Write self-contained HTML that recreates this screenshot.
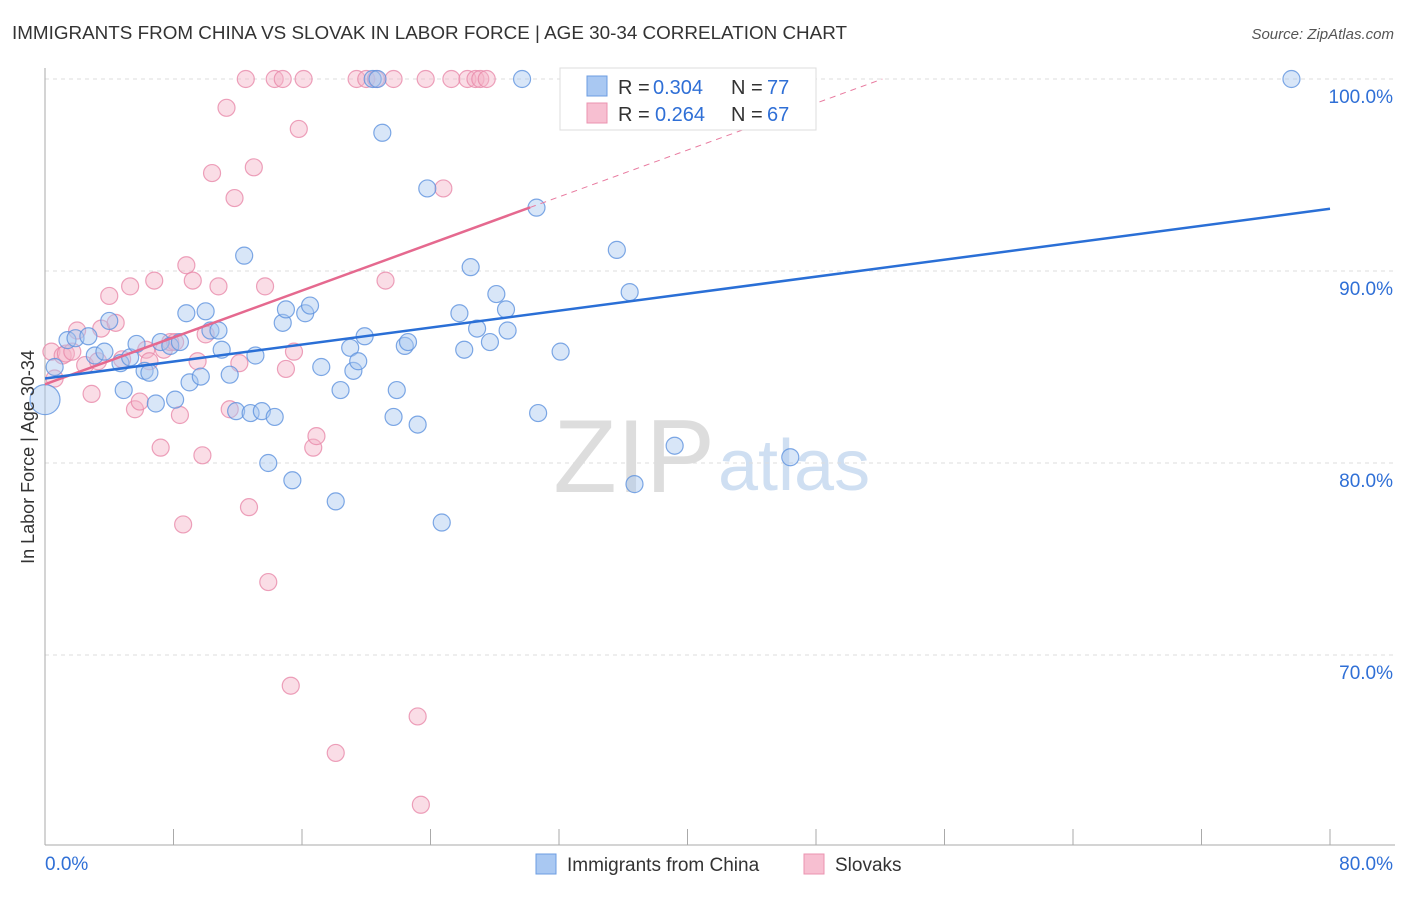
<!DOCTYPE html>
<html><head><meta charset="utf-8"><style>
body{margin:0;background:#fff;font-family:"Liberation Sans",sans-serif;}
svg text{font-family:"Liberation Sans",sans-serif;}
</style></head><body>
<svg id="chart" width="1406" height="892">
<text x="12" y="39" font-size="18" fill="#333" textLength="835" lengthAdjust="spacingAndGlyphs">IMMIGRANTS FROM CHINA VS SLOVAK IN LABOR FORCE | AGE 30-34 CORRELATION CHART</text>
<text x="1394" y="39" font-size="15" fill="#555" font-style="italic" text-anchor="end">Source: ZipAtlas.com</text>
<text x="715" y="492" font-size="104" fill="#ddd" text-anchor="end" font-family="Liberation Serif">ZIP</text>
<text x="718" y="490" font-size="72" fill="#cfdff2">atlas</text>
<g id="grid"></g>
<g id="axes"></g>
<g id="marks"></g>
<text transform="translate(34,457) rotate(-90)" font-size="18" fill="#333" text-anchor="middle">In Labor Force | Age 30-34</text>
<g>
<rect x="560" y="68" width="256" height="62" fill="#fff" stroke="#ddd"/>
<rect x="587" y="76" width="20" height="20" fill="#a9c8f2" stroke="#6c9de2"/>
<rect x="587" y="103" width="20" height="20" fill="#f7bfd1" stroke="#eb93b0"/>
<g font-size="20">
<text x="618" y="94" fill="#333">R =</text><text x="653" y="94" fill="#2f6fd6">0.304</text>
<text x="731" y="94" fill="#333">N =</text><text x="767" y="94" fill="#2f6fd6">77</text></g>
<g font-size="20">
<text x="618" y="121" fill="#333">R =</text><text x="655" y="121" fill="#2f6fd6">0.264</text>
<text x="731" y="121" fill="#333">N =</text><text x="767" y="121" fill="#2f6fd6">67</text></g>
</g>
<g>
<rect x="536" y="854" width="20" height="20" fill="#a9c8f2" stroke="#6c9de2"/>
<text x="567" y="871" font-size="19" fill="#333">Immigrants from China</text>
<rect x="804" y="854" width="20" height="20" fill="#f7bfd1" stroke="#eb93b0"/>
<text x="835" y="871" font-size="19" fill="#333">Slovaks</text>
</g>
</svg>
<script>
const chinaX=[0.0,0.6,1.4,1.9,2.7,3.1,3.7,4.0,4.7,4.9,5.3,5.7,6.2,6.5,6.9,7.2,7.8,8.1,8.4,8.8,9.0,9.7,10.0,10.3,10.8,11.0,11.5,11.9,12.4,12.8,13.1,13.5,13.9,14.3,14.8,15.0,15.4,16.2,16.5,17.2,18.1,18.4,19.0,19.2,19.5,19.9,20.4,20.7,21.0,21.7,21.9,22.4,22.6,23.2,23.8,24.7,25.8,26.1,26.5,26.9,27.7,28.1,28.7,28.8,29.7,30.6,30.7,32.1,32.9,35.6,36.4,36.7,39.2,46.4,77.6];
const chinaY=[83.3,85.0,86.4,86.5,86.6,85.6,85.8,87.4,85.2,83.8,85.5,86.2,84.8,84.7,83.1,86.3,86.1,83.3,86.3,87.8,84.2,84.5,87.9,86.9,86.9,85.9,84.6,82.7,90.8,82.6,85.6,82.7,80.0,82.4,87.3,88.0,79.1,87.8,88.2,85.0,78.0,83.8,86.0,84.8,85.3,86.6,100,100,97.2,82.4,83.8,86.1,86.3,82.0,94.3,76.9,87.8,85.9,90.2,87.0,86.3,88.8,88.0,86.9,100,93.3,82.6,85.8,100,91.1,88.9,78.9,80.9,80.3,100];
const slovakX=[0.4,0.6,1.1,1.3,1.7,2.0,2.5,2.9,3.3,3.5,4.0,4.4,4.8,5.3,5.6,5.9,6.3,6.5,6.8,7.2,7.4,7.8,8.1,8.4,8.6,8.8,9.2,9.5,9.8,10.0,10.4,10.8,11.3,11.5,11.8,12.1,12.5,12.7,13.0,13.7,13.9,14.3,14.8,15.0,15.3,15.5,15.8,16.1,16.7,16.9,18.1,19.4,20.0,20.6,21.2,21.7,23.2,23.4,23.7,24.8,25.3,26.3,26.8,27.1,27.5];
const slovakY=[85.8,84.4,85.6,85.7,85.8,86.9,85.1,83.6,85.3,87.0,88.7,87.3,85.4,89.2,82.8,83.2,85.9,85.3,89.5,80.8,85.9,86.3,86.3,82.5,76.8,90.3,89.5,85.3,80.4,86.7,95.1,89.2,98.5,82.8,93.8,85.2,100,77.7,95.4,89.2,73.8,100,100,84.9,68.4,85.8,97.4,100,80.8,81.4,64.9,100,100,100,89.5,100,66.8,62.2,100,94.3,100,100,100,100,100];
const yTicks=[100,90,80,70];
const yTickLabels=["100.0%","90.0%","80.0%","70.0%"];
const xTicks=[0,8,16,24,32,40,48,56,64,72,80];
const chinaTrend=[84.4,0.1105];
const slovakTrend=[84.1,0.305];
const NS="http://www.w3.org/2000/svg";
const X=v=>45+v/80*1285, Y=v=>79+(100-v)*19.2;
function mk(tag,attrs,parent){const e=document.createElementNS(NS,tag);for(const k in attrs)e.setAttribute(k,attrs[k]);document.getElementById(parent).appendChild(e);return e;}
yTicks.forEach((t,i)=>{
 const g=mk('line',{x1:45,x2:1395,y1:Y(t),y2:Y(t),stroke:'#ddd','stroke-dasharray':'4,4'},'grid');
 
 
 const l=mk('text',{x:1393,y:Y(t)+24,'text-anchor':'end','font-size':19,fill:'#2f6fd6'},'axes');
 l.textContent=yTickLabels[i];
 
 
});
const ax=mk('line',{x1:45,x2:45,y1:68,y2:845,stroke:'#aaa'},'axes');


const bx=mk('line',{x1:45,x2:1395,y1:845,y2:845,stroke:'#aaa'},'axes');


xTicks.forEach(t=>{
 const k=mk('line',{x1:X(t),x2:X(t),y1:829,y2:845,stroke:'#aaa'},'axes');
 
 
});
const xl=mk('text',{x:45,y:870,'font-size':19,fill:'#2f6fd6'},'axes');xl.textContent='0.0%';


const xr=mk('text',{x:1393,y:870,'font-size':19,fill:'#2f6fd6','text-anchor':'end'},'axes');xr.textContent='80.0%';


function pts(xs,ys,fill,stroke,name){
 xs.forEach((x,i)=>{
  const r=(x===0)?15:8.5;
  const c=mk('circle',{cx:X(x),cy:Y(ys[i]),r:r,fill:fill,'fill-opacity':0.45,stroke:stroke,'stroke-opacity':0.8,'stroke-width':1.2},'marks');
  
  
 });
}
pts(slovakX,slovakY,'#f5b3c8','#e88aaa','slovak-point');
pts(chinaX,chinaY,'#a8c8f0','#5e92de','china-point');
const sEnd=30.2, sTop=(100-slovakTrend[0])/slovakTrend[1];
const ps=mk('line',{x1:X(sEnd),y1:Y(slovakTrend[0]+slovakTrend[1]*sEnd),x2:X(sTop),y2:Y(100),stroke:'#e87a9f','stroke-width':1,'stroke-dasharray':'6,5'},'marks');


const pl=mk('line',{x1:X(0),y1:Y(slovakTrend[0]),x2:X(sEnd),y2:Y(slovakTrend[0]+slovakTrend[1]*sEnd),stroke:'#e5698f','stroke-width':2.5},'marks');


const bl=mk('line',{x1:X(0),y1:Y(chinaTrend[0]),x2:X(80),y2:Y(chinaTrend[0]+chinaTrend[1]*80),stroke:'#2a6fd6','stroke-width':2.5},'marks');


</script>
</body></html>
